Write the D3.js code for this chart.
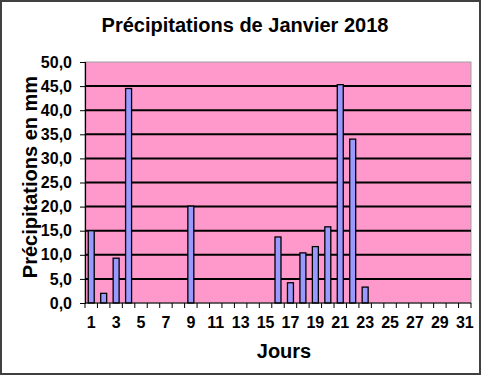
<!DOCTYPE html>
<html>
<head>
  <meta charset="utf-8">
  <title>Précipitations de Janvier 2018</title>
  <script src="https://d3js.org/d3.v7.min.js"></script>
  <style>
    body { margin: 0; background: #fff; }
    text { font-family: Arial, "Liberation Sans", sans-serif; font-weight: bold; fill: #000; }
  </style>
</head>
<body>
<svg id="chart" width="481" height="375"></svg>
<script>
// jours du mois et précipitations (mm)
var jours = d3.range(1, 32);
var pluie = [15.0, 2.0, 9.3, 44.5, 0, 0, 0, 0, 20.1, 0,
             0, 0, 0, 0, 0, 13.7, 4.2, 10.4, 11.7, 15.8,
             45.3, 34.0, 3.3, 0, 0, 0, 0, 0, 0, 0, 0];
var yTicks = [0, 5, 10, 15, 20, 25, 30, 35, 40, 45, 50];

var margin = {top: 62, right: 10, bottom: 72, left: 85},
    width = 471 - margin.left,
    height = 303 - margin.top;

var svg = d3.select("#chart");

// cadre extérieur
svg.append("rect")
    .attr("x", 1).attr("y", 1)
    .attr("width", 479).attr("height", 373)
    .attr("fill", "#fff")
    .attr("stroke", "#404040")
    .attr("stroke-width", 2);

var g = svg.append("g")
    .attr("transform", "translate(" + margin.left + "," + margin.top + ")");

var x = d3.scaleBand()
    .domain(jours)
    .range([0, width])
    .paddingInner(0.52)
    .paddingOuter(0.26);

var y = d3.scaleLinear()
    .domain([0, 50])
    .range([height, 0]);

// fond du graphique
g.append("rect")
    .attr("width", width)
    .attr("height", height)
    .attr("fill", "#ff99cc")
    .attr("stroke", "#a0a0a0")
    .attr("stroke-width", 1);

// quadrillage
g.selectAll(".grid")
    .data(yTicks.filter(function(d) { return d > 0 && d < 50; }))
  .enter().append("line")
    .attr("x1", 0).attr("x2", width)
    .attr("y1", function(d) { return y(d); })
    .attr("y2", function(d) { return y(d); })
    .attr("stroke", "#000")
    .attr("stroke-width", 2);

// barres
g.selectAll(".bar")
    .data(jours)
  .enter().append("rect")
    .filter(function(d, i) { return pluie[i] > 0; })
    .attr("class", "bar")
    .attr("x", function(d) { return x(d); })
    .attr("width", x.bandwidth())
    .attr("y", function(d) { return y(pluie[d - 1]); })
    .attr("height", function(d) { return height - y(pluie[d - 1]); })
    .attr("fill", "#9999ff")
    .attr("stroke", "#000")
    .attr("stroke-width", 1.3);

// axe Y
var yAxis = g.append("g")
    .call(d3.axisLeft(y).tickValues(yTicks).tickSize(5).tickPadding(8)
      .tickFormat(function(d) { return d3.format(".1f")(d).replace(".", ","); }));
yAxis.select(".domain").attr("stroke", "#000").attr("stroke-width", 1.2);
yAxis.selectAll("text").style("font-size", "16px");

// axe X : graduations entre les catégories
var step = x.step();
var xAxis = g.append("g")
    .attr("transform", "translate(0," + height + ")");
xAxis.append("line")
    .attr("x1", 0).attr("x2", width)
    .attr("stroke", "#000").attr("stroke-width", 1.2);
xAxis.selectAll(".tick")
    .data(d3.range(0, jours.length + 1))
  .enter().append("line")
    .attr("x1", function(i) { return i * step; })
    .attr("x2", function(i) { return i * step; })
    .attr("y1", 0).attr("y2", 5)
    .attr("stroke", "#000");
xAxis.selectAll(".lab")
    .data(jours.filter(function(d) { return d % 2 === 1; }))
  .enter().append("text")
    .attr("x", function(d) { return x(d) + x.bandwidth() / 2; })
    .attr("y", 25)
    .attr("text-anchor", "middle")
    .style("font-size", "16px")
    .text(function(d) { return d; });

// titres
svg.append("text")
    .attr("x", 245).attr("y", 32)
    .attr("text-anchor", "middle")
    .style("font-size", "20px")
    .text("Précipitations de Janvier 2018");

svg.append("text")
    .attr("x", 284).attr("y", 358)
    .attr("text-anchor", "middle")
    .style("font-size", "20px")
    .text("Jours");

svg.append("text")
    .attr("transform", "translate(37,177) rotate(-90)")
    .attr("text-anchor", "middle")
    .style("font-size", "20px")
    .text("Précipitations en mm");
</script>
</body>
</html>
